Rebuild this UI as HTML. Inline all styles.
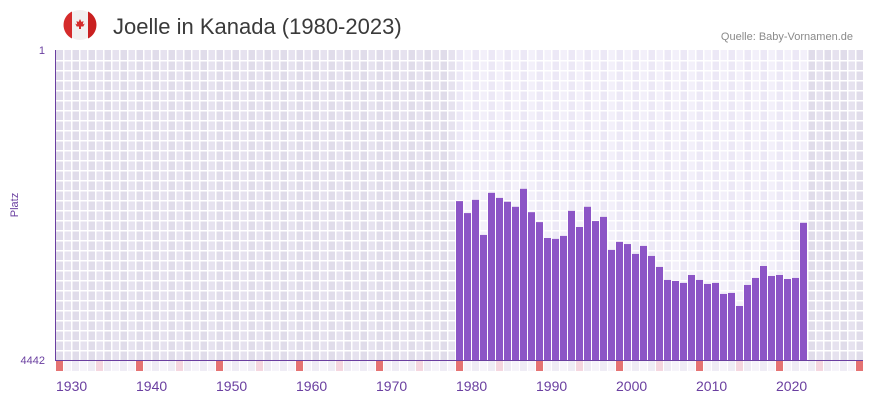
<!DOCTYPE html>
<html><head><meta charset="utf-8"><style>
body{margin:0;background:#fff;width:873px;height:402px;overflow:hidden;font-family:"Liberation Sans",sans-serif}
</style></head><body>
<svg id="c" width="873" height="402" xmlns="http://www.w3.org/2000/svg">
<g>
<circle cx="80" cy="25" r="15" fill="#f2f0f0"/>
<path d="M72,11.5 A15,15 0 0 0 72,38.5 Z" fill="#d52b2b"/>
<path d="M88,11.5 A15,15 0 0 1 88,38.5 Z" fill="#c92020"/>
<path d="M80,19 l1.5,3 2,-1 -0.7,3.5 2,-1 -1.5,3 -2.3,0 0,2.5 -2,0 0,-2.5 -2.3,0 -1.5,-3 2,1 -0.7,-3.5 2,1z" fill="#d52b2b"/>
</g>
<text x="113" y="34" font-size="22" fill="#3a3a3a">Joelle in Kanada (1980-2023)</text>
<text x="853" y="40" font-size="11" fill="#8a8a8a" text-anchor="end">Quelle: Baby-Vornamen.de</text>
<text x="45" y="54" font-size="11" fill="#6a3fa0" text-anchor="end">1</text>
<text x="45" y="364" font-size="11" fill="#6a3fa0" text-anchor="end">4442</text>
<text x="18" y="205" font-size="11" fill="#6a3fa0" text-anchor="middle" transform="rotate(-90 18 205)">Platz</text>
<g id="bg"></g><g id="bars"></g><g id="xa"></g>
</svg>
<script>
const years=[1980,1981,1982,1983,1984,1985,1986,1987,1988,1989,1990,1991,1992,1993,1994,1995,1996,1997,1998,1999,2000,2001,2002,2003,2004,2005,2006,2007,2008,2009,2010,2011,2012,2013,2014,2015,2016,2017,2018,2019,2020,2021,2022,2023];
const ranks=[60,83,58,150,48,55,61,70,43,81,106,163,167,154,78,121,70,103,92,225,181,192,251,202,265,357,508,522,551,444,508,566,551,742,723,1028,582,481,348,456,444,495,481,108];
const xTicks=[1930,1940,1950,1960,1970,1980,1990,2000,2010,2020];
const maxRank=4442, y0=1930, y1=2031;
const L=55,R=863,T=50,B=360,W=8;
const NS="http://www.w3.org/2000/svg";
function xs(y){return 56+(y-y0)*W;}
function ys(r){return T+(B-T)*Math.log(r)/Math.log(maxRank);}
function mk(t,a,p){const e=document.createElementNS(NS,t);for(const k in a)e.setAttribute(k,a[k]);p.appendChild(e);return e;}
const bg=document.getElementById('bg');
const first=years[0],last=years[years.length-1];
const pa=mk('rect',{x:L,y:T,width:R-L,height:B-T,fill:'#e4e0ed'},bg);

for(let y=y0;y<y1;y++){
  const inr=y>=first&&y<=last;
  const c=inr?(y%2?'#f3f0fa':'#ece8f6'):(y%2?'#e6e2ef':'#e0dcea');
  mk('rect',{x:xs(y),y:T,width:Math.min(W,R-xs(y)),height:B-T,fill:c},bg);
  const st=y%10===0?'#e57373':(y%5===0?'#f5d6df':(y%2?'#f6f4fa':'#efecf5'));
  mk('rect',{x:xs(y),y:B+1,width:W-1,height:10,fill:st},bg);
}
for(let x=56+W-1;x<R;x+=W)mk('rect',{x:x,y:T,width:1.5,height:B-T,fill:'#fff'},bg);
for(let y=T+10;y<B;y+=10)mk('rect',{x:L,y:y,width:R-L,height:1.5,fill:'#fff'},bg);
mk('rect',{x:L,y:T,width:1,height:B-T+1,fill:'#6a3fa0'},bg);
mk('rect',{x:L,y:B,width:R-L,height:1,fill:'#6a3fa0'},bg);
const bars=document.getElementById('bars');
years.forEach((y,i)=>{
  const t=ys(ranks[i]);
  const b=mk('rect',{x:xs(y),y:t,width:W-1,height:B-t,fill:'#8c55c6'},bars);
  
  
});
const xa=document.getElementById('xa');
xTicks.forEach(y=>{
  const t=mk('text',{x:xs(y),y:391,'font-size':14,fill:'#6a3fa0'},xa);
  t.textContent=y;
  
  
});
</script>
</body></html>
